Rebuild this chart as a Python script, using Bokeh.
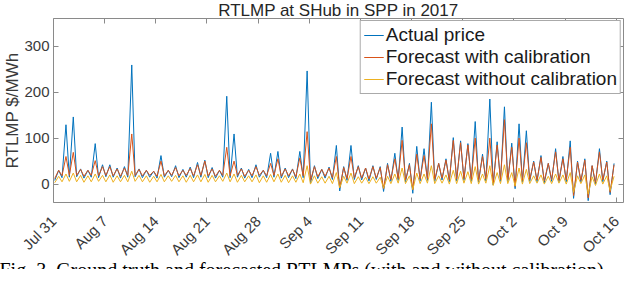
import math
from bokeh.plotting import figure
from bokeh.models import Range1d, FixedTicker, LinearAxis, Legend, LegendItem, Title
from bokeh.embed import file_html
from bokeh.resources import INLINE

title_text = "RTLMP at SHub in SPP in 2017"
y_label = "RTLMP $/MWh"
caption = "Fig. 3.  Ground truth and forecasted RTLMPs (with and without calibration)"
series_names = ["Actual price", "Forecast with calibration", "Forecast without calibration"]

tick_days = [0, 7, 14, 21, 28, 35, 42, 49, 56, 63, 70, 77]
tick_labels = ["Jul 31", "Aug 7", "Aug 14", "Aug 21", "Aug 28", "Sep 4",
               "Sep 11", "Sep 18", "Sep 25", "Oct 2", "Oct 9", "Oct 16"]
y_ticks = [0, 100, 200, 300]

# hour of the daily low and of the daily peak
trough_hour = 4
peak_hour = 17

actual_low = [8, 14, 15, 16, 13, 15, 14, 16, 15, 13,
              15, 16, 14, 15, 13, 15, 16, 14, 15, 14,
              15, 14, 13, 15, 14, 15, 13, 14, 15, 14,
              15, 13, 14, 12, 14, 2, 12, 13, 10, -15,
              8, 10, 9, 7, 10, -16, 6, 8, 5, -20,
              7, 8, 6, 9, 5, 7, 8, 6, 4, 7,
              -2, 6, 5, -10, 4, 6, 5, 3, 6, 4,
              5, -31, 4, -36, 0, 5, -23]
actual_peak = [30, 129, 146, 33, 30, 88, 42, 42, 35, 38,
               259, 33, 30, 28, 62, 30, 40, 32, 37, 47,
               52, 36, 30, 191, 109, 35, 32, 42, 30, 67,
               71, 35, 33, 71, 246, 40, 32, 37, 84, 38,
               84, 40, 35, 40, 38, 45, 67, 124, 45, 82,
               77, 178, 45, 55, 101, 94, 88, 136, 65, 185,
               92, 168, 89, 131, 116, 50, 62, 45, 77, 60,
               94, 50, 55, 40, 77, 50, 45]
cal_low = [12, 18, 19, 19, 17, 19, 18, 19, 18, 17,
           19, 19, 18, 19, 17, 18, 19, 18, 19, 18,
           19, 18, 17, 19, 18, 19, 17, 18, 19, 18,
           19, 17, 18, 16, 18, 8, 16, 17, 14, -8,
           12, 14, 13, 11, 13, -10, 10, 12, 9, -12,
           11, 12, 10, 13, 9, 11, 12, 10, 8, 11,
           2, 10, 9, -5, 8, 10, 9, 7, 10, 8,
           9, -25, 8, -30, 4, 9, -18]
cal_peak = [30, 60, 69, 32, 30, 51, 38, 38, 33, 35,
            109, 32, 30, 28, 50, 30, 36, 30, 34, 42,
            50, 33, 30, 80, 50, 33, 30, 38, 30, 45,
            55, 33, 32, 57, 114, 38, 32, 35, 60, 36,
            60, 38, 35, 38, 36, 42, 55, 95, 42, 65,
            62, 131, 45, 52, 95, 90, 85, 100, 60, 100,
            85, 140, 80, 100, 90, 48, 58, 45, 70, 55,
            80, 48, 52, 40, 70, 48, 42]
uncal_low = [3, 5, 6, 5, 4, 5, 6, 5, 4, 5,
             5, 6, 5, 4, 5, 5, 6, 5, 4, 5,
             5, 4, 5, 6, 5, 4, 5, 5, 3, 4,
             5, 4, 3, 4, 3, 0, 2, 2, 1, -8,
             2, 1, 2, 1, 2, -9, 1, 2, 1, -12,
             1, 2, 1, 2, 0, 1, 2, 1, 0, 2,
             -3, 1, 1, -4, 0, 1, 2, 0, 1, 2,
             0, -18, 1, -22, -3, 0, -14]
uncal_peak = [17, 22, 24, 19, 18, 22, 19, 20, 18, 19,
              28, 19, 18, 17, 21, 18, 19, 18, 19, 20,
              21, 19, 18, 24, 22, 19, 18, 20, 18, 21,
              22, 19, 18, 22, 40, 18, 16, 17, 25, 17,
              24, 16, 15, 16, 15, 17, 22, 35, 18, 24,
              22, 40, 18, 20, 30, 28, 27, 38, 22, 40,
              25, 42, 25, 35, 32, 18, 20, 17, 22, 20,
              25, 18, 20, 16, 22, 18, 17]


def daily_series(lows, peaks):
    xs, ys = [], []
    for d, (lo, pk) in enumerate(zip(lows, peaks)):
        xs += [d + trough_hour / 24, d + peak_hour / 24]
        ys += [lo, pk]
    return xs, ys


AX = "#8a8a8a"
TXT = "#3a3a3a"
FONT = "Liberation Sans"

p = figure(width=624, height=269, output_backend="svg", toolbar_location=None,
           x_range=Range1d(0, 78), y_range=Range1d(-40, 360),
           min_border_left=0, min_border_right=1, min_border_top=0, min_border_bottom=0,
           background_fill_color="white", border_fill_color="white")
p.grid.visible = False
p.outline_line_color = AX
p.outline_line_width = 1

p.title.text = title_text
p.title.align = "center"
p.title.text_font = FONT
p.title.text_font_size = "17px"
p.title.text_font_style = "normal"
p.title.text_color = "#262626"
p.title.standoff = -3
p.title.offset = 0

colors = ["#0072BD", "#D95319", "#EDB120"]
renderers = []
for (lo, pk), c in zip([(actual_low, actual_peak), (cal_low, cal_peak), (uncal_low, uncal_peak)], colors):
    xs, ys = daily_series(lo, pk)
    renderers.append(p.line(xs, ys, line_color=c, line_width=1))

for ax in (p.xaxis[0], p.yaxis[0]):
    ax.axis_line_color = None
    ax.major_tick_in = 5
    ax.major_tick_out = 0
    ax.major_tick_line_color = AX
    ax.minor_tick_line_color = None
    ax.major_label_text_font = FONT
    ax.major_label_text_font_size = "15px"
    ax.major_label_text_color = TXT

p.xaxis.ticker = FixedTicker(ticks=tick_days)
p.xaxis.major_label_overrides = {d: lab for d, lab in zip(tick_days, tick_labels)}
p.xaxis.major_label_orientation = math.pi / 4
p.xaxis.major_label_standoff = 16
p.yaxis.ticker = FixedTicker(ticks=y_ticks)
p.yaxis.major_label_standoff = 4

right = LinearAxis(ticker=FixedTicker(ticks=y_ticks), axis_line_color=None,
                   major_tick_in=5, major_tick_out=0, major_tick_line_color=AX,
                   minor_tick_line_color=None, major_label_standoff=0,
                   major_label_overrides={t: "" for t in y_ticks})
top = LinearAxis(ticker=FixedTicker(ticks=tick_days), axis_line_color=None,
                 major_tick_in=5, major_tick_out=0, major_tick_line_color=AX,
                 minor_tick_line_color=None, major_label_standoff=0,
                 major_label_overrides={t: "" for t in tick_days})
p.add_layout(right, "right")
p.add_layout(top, "above")

p.add_layout(Title(text=y_label, align="center", text_font=FONT, text_font_size="17px",
                   text_font_style="normal", text_color=TXT, standoff=0), "left")
p.add_layout(Title(text=caption, align="left", offset=-54, text_font="Liberation Serif",
                   text_font_size="20px", text_font_style="normal", text_color="#000000",
                   standoff=-22), "below")

legend = Legend(items=[LegendItem(label=n, renderers=[r]) for n, r in zip(series_names, renderers)],
                location="top_right", margin=2, padding=3, spacing=0,
                glyph_width=20, glyph_height=22, label_height=22, label_standoff=2,
                label_text_font=FONT, label_text_font_size="19px", label_text_color="#1a1a1a",
                border_line_color="#555555", border_line_width=1,
                background_fill_color="white", background_fill_alpha=1)
p.add_layout(legend)

open("out.html", "w").write(file_html(p, INLINE))
